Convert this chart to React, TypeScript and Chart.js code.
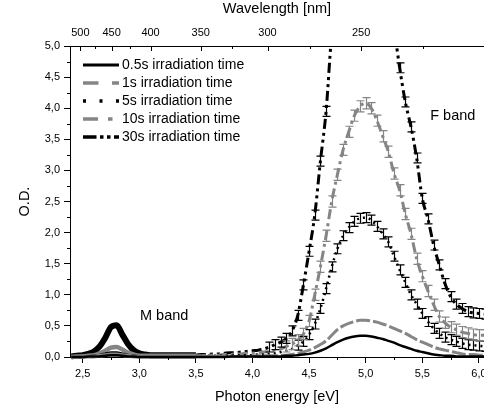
import React, { useEffect, useRef } from "react";
import { Chart, registerables } from "chart.js";

Chart.register(...registerables);

// Photon energy grid [eV]
const energies = [
  2.40, 2.45, 2.50, 2.55, 2.60, 2.65, 2.70, 2.75, 2.80, 2.85,
  2.90, 2.95, 3.00, 3.05, 3.10, 3.15, 3.20, 3.25, 3.30, 3.35,
  3.40, 3.45, 3.50, 3.55, 3.60, 3.65, 3.70, 3.75, 3.80, 3.85,
  3.90, 3.95, 4.00, 4.05, 4.10, 4.15, 4.20, 4.25, 4.30, 4.35,
  4.40, 4.45, 4.50, 4.55, 4.60, 4.65, 4.70, 4.75, 4.80, 4.85,
  4.90, 4.95, 5.00, 5.05, 5.10, 5.15, 5.20, 5.25, 5.30, 5.35,
  5.40, 5.45, 5.50, 5.55, 5.60, 5.65, 5.70, 5.75, 5.80, 5.85,
  5.90, 5.95, 6.00, 6.05,
];

const od05s = [
  0.00, 0.00, 0.00, 0.01, 0.01, 0.01, 0.02, 0.03, 0.03, 0.02,
  0.01, 0.01, 0.00, 0.00, 0.00, 0.00, 0.00, 0.00, 0.00, 0.00,
  0.00, 0.00, 0.00, 0.00, 0.00, 0.00, 0.00, 0.00, 0.01, 0.01,
  0.01, 0.01, 0.01, 0.01, 0.01, 0.01, 0.01, 0.01, 0.02, 0.02,
  0.03, 0.04, 0.05, 0.07, 0.10, 0.14, 0.19, 0.24, 0.28, 0.31,
  0.33, 0.34, 0.34, 0.33, 0.31, 0.29, 0.26, 0.23, 0.19, 0.16,
  0.13, 0.10, 0.08, 0.06, 0.04, 0.03, 0.02, 0.02, 0.01, 0.01,
  0.01, 0.01, 0.01, 0.01,
];

const od1s = [
  0.00, 0.00, 0.01, 0.01, 0.01, 0.02, 0.03, 0.04, 0.04, 0.03,
  0.02, 0.01, 0.01, 0.01, 0.01, 0.01, 0.01, 0.01, 0.01, 0.01,
  0.01, 0.01, 0.01, 0.01, 0.01, 0.01, 0.01, 0.01, 0.01, 0.01,
  0.01, 0.01, 0.01, 0.02, 0.02, 0.02, 0.02, 0.03, 0.03, 0.04,
  0.06, 0.08, 0.11, 0.15, 0.20, 0.26, 0.35, 0.44, 0.50, 0.54,
  0.57, 0.59, 0.59, 0.58, 0.56, 0.53, 0.50, 0.46, 0.42, 0.38,
  0.33, 0.28, 0.24, 0.20, 0.16, 0.13, 0.11, 0.09, 0.07, 0.05,
  0.04, 0.04, 0.03, 0.03,
];

const od5s = [
  0.00, 0.00, 0.01, 0.01, 0.02, 0.03, 0.05, 0.07, 0.07, 0.05,
  0.03, 0.02, 0.01, 0.01, 0.01, 0.01, 0.01, 0.01, 0.01, 0.01,
  0.01, 0.01, 0.01, 0.01, 0.02, 0.02, 0.02, 0.02, 0.02, 0.03,
  0.03, 0.03, 0.03, 0.04, 0.04, 0.05, 0.06, 0.08, 0.10, 0.13,
  0.19, 0.25, 0.36, 0.53, 0.78, 1.10, 1.45, 1.74, 1.95, 2.08,
  2.18, 2.23, 2.24, 2.20, 2.10, 1.98, 1.85, 1.62, 1.40, 1.20,
  1.00, 0.85, 0.70, 0.57, 0.46, 0.38, 0.32, 0.28, 0.25, 0.22,
  0.20, 0.19, 0.18, 0.17,
];

const od10s = [
  0.00, 0.01, 0.01, 0.02, 0.03, 0.06, 0.10, 0.15, 0.16, 0.12,
  0.07, 0.04, 0.02, 0.02, 0.02, 0.02, 0.02, 0.02, 0.02, 0.02,
  0.02, 0.02, 0.02, 0.02, 0.03, 0.03, 0.03, 0.04, 0.04, 0.05,
  0.05, 0.06, 0.06, 0.07, 0.08, 0.09, 0.11, 0.13, 0.17, 0.21,
  0.27, 0.37, 0.58, 1.00, 1.45, 1.95, 2.50, 2.93, 3.33, 3.62,
  3.88, 4.03, 4.08, 4.00, 3.80, 3.55, 3.30, 2.95, 2.68, 2.30,
  1.98, 1.58, 1.30, 1.06, 0.84, 0.65, 0.55, 0.48, 0.44, 0.40,
  0.38, 0.36, 0.35, 0.35,
];

const od30s = [
  0.01, 0.02, 0.03, 0.05, 0.09, 0.17, 0.31, 0.48, 0.51, 0.36,
  0.21, 0.11, 0.06, 0.04, 0.03, 0.03, 0.03, 0.03, 0.03, 0.03,
  0.03, 0.03, 0.03, 0.04, 0.04, 0.05, 0.05, 0.06, 0.07, 0.07,
  0.08, 0.09, 0.10, 0.11, 0.13, 0.16, 0.20, 0.24, 0.30, 0.42,
  0.67, 1.16, 1.70, 2.28, 3.15, 3.95, 5.20, 5.90, 6.60, 7.10,
  7.50, 7.70, 7.70, 7.50, 7.10, 6.50, 5.90, 5.30, 4.65, 4.10,
  3.70, 3.20, 2.55, 2.22, 1.80, 1.48, 1.18, 0.97, 0.85, 0.78,
  0.73, 0.71, 0.70, 0.69,
];

// error bar half-heights [O.D.]
const err5s = 0.08;
const err10s = 0.09;
const err30s = 0.08;

const seriesLabels = [
  "0.5s irradiation time",
  "1s irradiation time",
  "5s irradiation time",
  "10s irradiation time",
  "30s irradiation time",
];

const energyTicks = [2.5, 3.0, 3.5, 4.0, 4.5, 5.0, 5.5, 6.0];
const energyMinorTicks = [2.75, 3.25, 3.75, 4.25, 4.75, 5.25, 5.75];
const odTicks = [0, 0.5, 1.0, 1.5, 2.0, 2.5, 3.0, 3.5, 4.0, 4.5, 5.0];
const odMinorTicks = [0.25, 0.75, 1.25, 1.75, 2.25, 2.75, 3.25, 3.75, 4.25, 4.75];
const wavelengthTicks = [500, 450, 400, 350, 300, 250];
const wavelengthMinorTicks = [475, 425, 325, 275, 225];

const bandLabels = ["M band", "F band"];
const bandLabelEnergy = [3.22, 5.57];
const bandLabelOD = [0.66, 3.87];

const HC = 1239.84; // eV*nm
const X_MIN = 2.388;
const X_MAX = 6.045;
const DENSE_LIMIT = 3.5; // below this energy the measured points overlap into a solid band
const ERRBAR_FROM = 4.0;
const ERRBAR_MIN_OD = 0.15;

const FONT = "'Liberation Sans', Arial, sans-serif";
const GRAY = "#858585";

const seriesStyles = [
  { color: "#000", width: 2.5, denseWidth: 2.5, dash: [], legendDash: [], legendWidth: 3, err: 0 },
  { color: GRAY, width: 3, denseWidth: 4, dash: [14, 3], legendDash: [15.5, 13.5], legendWidth: 3.5, err: 0 },
  { color: "#000", width: 2.5, denseWidth: 3, dash: [2, 4], legendDash: [3, 13.5], legendWidth: 3.5, err: err5s },
  { color: GRAY, width: 3, denseWidth: 4.5, dash: [10, 4, 3, 4], legendDash: [15, 10, 4.5, 10], legendWidth: 3.5, err: err10s },
  { color: "#000", width: 3, denseWidth: 6, dash: [10, 4, 3, 4, 3, 4], legendDash: [13.5, 3.5, 3.5, 3.5, 3.5, 3.5], legendWidth: 3.5, err: err30s },
];

const seriesValues = [od05s, od1s, od5s, od10s, od30s];

const commaFmt = (v: number) => v.toFixed(1).replace(".", ",");

const decorPlugin = {
  id: "decor",
  afterDatasetsDraw(chart: any) {
    const { ctx, chartArea: a, scales } = chart;
    const xs = scales.x;
    const ys = scales.y;
    ctx.save();
    ctx.beginPath();
    ctx.rect(a.left, a.top, a.right - a.left, a.bottom - a.top);
    ctx.clip();
    chart.data.datasets.forEach((ds: any) => {
      if (!ds.errorBar) return;
      ctx.strokeStyle = ds.borderColor;
      ctx.lineWidth = 1.2;
      ctx.setLineDash([]);
      ds.data.forEach((p: any) => {
        if (p.y < ERRBAR_MIN_OD || p.x < ERRBAR_FROM) return;
        const px = Math.round(xs.getPixelForValue(p.x)) + 0.5;
        const y1 = ys.getPixelForValue(p.y - ds.errorBar);
        const y2 = ys.getPixelForValue(p.y + ds.errorBar);
        ctx.beginPath();
        ctx.moveTo(px, y1);
        ctx.lineTo(px, y2);
        ctx.moveTo(px - 4, y1);
        ctx.lineTo(px + 4, y1);
        ctx.moveTo(px - 4, y2);
        ctx.lineTo(px + 4, y2);
        ctx.stroke();
      });
    });
    ctx.restore();
  },
  afterDraw(chart: any) {
    const { ctx, chartArea: a, scales } = chart;
    const xs = scales.x;
    const ys = scales.y;
    ctx.save();
    ctx.strokeStyle = "#000";
    ctx.lineWidth = 1;
    ctx.setLineDash([]);
    ctx.beginPath();
    energyMinorTicks.forEach((v) => {
      const px = Math.round(xs.getPixelForValue(v)) + 0.5;
      ctx.moveTo(px, a.bottom);
      ctx.lineTo(px, a.bottom + 3);
    });
    odMinorTicks.forEach((v) => {
      const py = Math.round(ys.getPixelForValue(v)) + 0.5;
      ctx.moveTo(a.left - 3, py);
      ctx.lineTo(a.left, py);
    });
    wavelengthTicks.forEach((l) => {
      const px = Math.round(xs.getPixelForValue(HC / l)) + 0.5;
      ctx.moveTo(px, a.top);
      ctx.lineTo(px, a.top + 5);
    });
    wavelengthMinorTicks.forEach((l) => {
      const px = Math.round(xs.getPixelForValue(HC / l)) + 0.5;
      ctx.moveTo(px, a.top);
      ctx.lineTo(px, a.top + 3);
    });
    ctx.stroke();

    // legend
    ctx.font = `14px ${FONT}`;
    ctx.textBaseline = "middle";
    ctx.textAlign = "left";
    chart.data.datasets.forEach((ds: any, i: number) => {
      const y = 65 + i * 18;
      ctx.strokeStyle = ds.borderColor;
      ctx.lineWidth = ds.legendWidth;
      ctx.lineCap = "butt";
      ctx.setLineDash(ds.legendDash);
      ctx.beginPath();
      ctx.moveTo(83, y);
      ctx.lineTo(119, y);
      ctx.stroke();
      ctx.setLineDash([]);
      ctx.fillStyle = "#000";
      ctx.fillText(ds.label, 122, y);
    });

    // band annotations
    ctx.font = `14.5px ${FONT}`;
    ctx.fillStyle = "#000";
    bandLabels.forEach((t, i) => {
      const px = xs.getPixelForValue(bandLabelEnergy[i]);
      const py = ys.getPixelForValue(bandLabelOD[i]);
      ctx.textAlign = i === 0 ? "center" : "left";
      ctx.fillText(t, px, py);
    });
    ctx.restore();
  },
};

export default function App() {
  const canvasRef = useRef<HTMLCanvasElement | null>(null);

  useEffect(() => {
    if (!canvasRef.current) return;
    const datasets = seriesValues.map((vals, i) => {
      const s = seriesStyles[i];
      return {
        label: seriesLabels[i],
        data: energies.map((e, k) => ({ x: e, y: vals[k] })),
        borderColor: s.color,
        backgroundColor: s.color,
        borderWidth: s.width,
        borderDash: s.dash,
        legendDash: s.legendDash,
        legendWidth: s.legendWidth,
        errorBar: s.err,
        pointRadius: 0,
        fill: false,
        cubicInterpolationMode: "monotone",
        clip: { left: 0, top: 0, right: 0, bottom: 3 },
        segment: {
          borderDash: (c: any) => (c.p0.parsed.x < DENSE_LIMIT ? [] : undefined),
          borderWidth: (c: any) => (c.p0.parsed.x < DENSE_LIMIT ? s.denseWidth : undefined),
        },
      } as any;
    });

    const tickFont = { family: FONT, size: 11 };
    const titleFont = { family: FONT, size: 14.5 };

    const chart = new Chart(canvasRef.current, {
      type: "line",
      data: { datasets },
      plugins: [decorPlugin],
      options: {
        animation: false,
        responsive: false,
        maintainAspectRatio: false,
        devicePixelRatio: 1,
        layout: { padding: 0 },
        plugins: { legend: { display: false }, tooltip: { enabled: false } },
        scales: {
          x: {
            type: "linear",
            position: "bottom",
            min: X_MIN,
            max: X_MAX,
            afterBuildTicks: (s: any) => {
              s.ticks = energyTicks.map((v) => ({ value: v }));
            },
            afterFit: (s: any) => {
              s.height = 54;
              s.paddingLeft = 0;
              s.paddingRight = 0;
            },
            ticks: {
              autoSkip: false,
              maxRotation: 0,
              padding: 4,
              color: "#000",
              font: tickFont,
              callback: (v: any) => commaFmt(Number(v)),
            },
            grid: { display: true, drawOnChartArea: false, drawTicks: true, tickLength: 6, color: "#000", lineWidth: 1 },
            border: { display: true, color: "#000", width: 1 },
            title: { display: true, text: "Photon energy [eV]", color: "#000", font: titleFont, padding: { top: 0, bottom: 5 } },
          },
          x2: {
            type: "linear",
            position: "top",
            min: X_MIN,
            max: X_MAX,
            afterBuildTicks: (s: any) => {
              s.ticks = wavelengthTicks.map((l) => ({ value: HC / l }));
            },
            afterFit: (s: any) => {
              s.height = 46;
              s.paddingLeft = 0;
              s.paddingRight = 0;
            },
            ticks: {
              autoSkip: false,
              maxRotation: 0,
              padding: 6,
              color: "#000",
              font: tickFont,
              callback: (v: any) => String(Math.round(HC / Number(v))),
            },
            grid: { display: true, drawOnChartArea: false, drawTicks: false, color: "rgba(0,0,0,0)" },
            border: { display: true, color: "#000", width: 1 },
            title: { display: true, text: "Wavelength [nm]", color: "#000", font: titleFont, padding: { top: 0, bottom: 0 } },
          },
          y: {
            type: "linear",
            position: "left",
            min: 0,
            max: 5,
            afterBuildTicks: (s: any) => {
              s.ticks = odTicks.map((v) => ({ value: v }));
            },
            afterFit: (s: any) => {
              s.width = 70;
              s.paddingTop = 0;
              s.paddingBottom = 0;
            },
            ticks: {
              autoSkip: false,
              padding: 4,
              color: "#000",
              font: tickFont,
              callback: (v: any) => commaFmt(Number(v)),
            },
            grid: { display: true, drawOnChartArea: false, drawTicks: true, tickLength: 6, color: "#000", lineWidth: 1 },
            border: { display: true, color: "#000", width: 1 },
            title: { display: true, text: "O.D.", color: "#000", font: titleFont, padding: { top: 16, bottom: 0 } },
          },
        },
      } as any,
    });
    return () => chart.destroy();
  }, []);

  return (
    <div style={{ position: "fixed", left: 0, top: 0, width: 484, height: 411, background: "#fff" }}>
      <canvas ref={canvasRef} width={484} height={411} style={{ width: 484, height: 411, display: "block" }} />
    </div>
  );
}
